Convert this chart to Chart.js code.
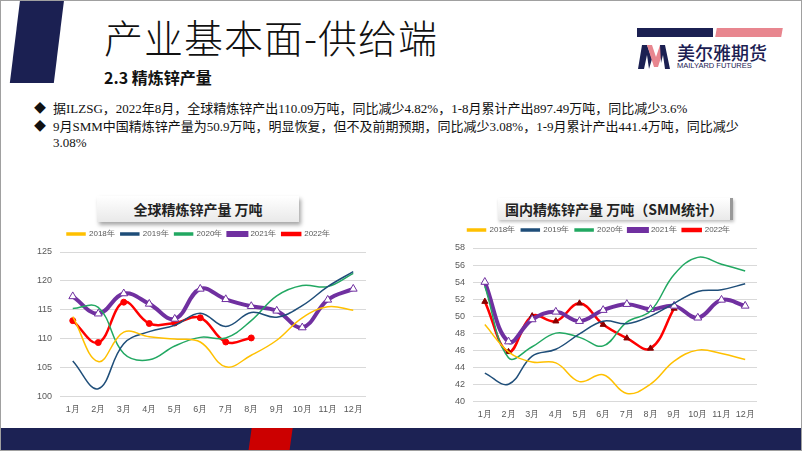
<!DOCTYPE html>
<html>
<head>
<meta charset="utf-8">
<script src="https://cdn.jsdelivr.net/npm/chart.js@4.4.0/dist/chart.umd.min.js"></script>
<style>
  html, body { margin: 0; padding: 0; background: #fff; }
  #slide {
    position: relative; width: 802px; height: 451px; overflow: hidden;
    background: #fff; box-sizing: border-box; border: 1px solid #a0a0a0;
    font-family: "Noto Sans CJK SC", "Liberation Serif", serif;
  }
  .abs { position: absolute; }
  #bar-left { left: 14px; top: -2px; width: 44px; height: 84px; background: #1b2052; transform: skewX(-7deg); }
  #title { left: 103px; top: 10px; font-size: 39px; line-height: 50px; color: #111; font-weight: 300; letter-spacing: 1px; }
  #subtitle { left: 103px; top: 65px; font-size: 16px; line-height: 22px; font-weight: bold; color: #111; }
  #logo-bar1 { left: 636px; top: 27px; width: 76px; height: 9px; background: #1b2052; }
  #logo-bar2 { left: 715px; top: 27px; width: 66px; height: 9px; background: #e8868f; transform: skewX(-10deg); }
  #logo-cn { left: 676px; top: 41px; font-size: 18px; line-height: 20px; color: #1b2052; font-weight: 500; }
  #logo-en { left: 676px; top: 60px; font-size: 7.5px; line-height: 9px; color: #1b2052; font-family: "Liberation Sans", sans-serif; }
  .bullet { left: 33px; font-size: 13px; line-height: 16px; color: #111; font-family: "Liberation Serif", "Noto Sans CJK SC", serif; white-space: nowrap; }
  .bullet b { font-weight: normal; display: inline-block; width: 19px; font-size: 12px; }
  .ctitle {
    font-size: 14px; font-weight: bold; color: #222; text-align: center;
    background: linear-gradient(#ffffff, #e9e9e9);
    box-shadow: 2px 3px 4px rgba(0,0,0,0.35);
    font-family: "Noto Sans CJK SC", serif;
  }
  #ct1 { left: 96px; top: 195px; width: 202px; height: 26px; line-height: 26px; }
  #ct2 { left: 497px; top: 197px; width: 232px; height: 22px; line-height: 22px; border-right: 3px solid #999; box-shadow: 1px 2px 3px rgba(0,0,0,0.25); }
  #foot { left: 0; top: 427px; width: 802px; height: 24px; background: #1c2254; }
  #foot-red { left: 249px; top: 427px; width: 41px; height: 24px; background: #cc0000; transform: skewX(-8deg); }
  #c1wrap { left: 30px; top: 223px; width: 345px; height: 197px; }
  #c2wrap { left: 440px; top: 219px; width: 325px; height: 206px; }
</style>
</head>
<body>
<div id="slide">
  <div class="abs" id="bar-left"></div>
  <div class="abs" id="title">产业基本面-供给端</div>
  <div class="abs" id="subtitle">2.3 精炼锌产量</div>

  <div class="abs" id="logo-bar1"></div>
  <div class="abs" id="logo-bar2"></div>
  <svg class="abs" style="left:637px;top:42px" width="36" height="26" viewBox="0 0 36 26">
    <polygon points="0,26 4,2 9,2 14,16 11,26 9,12 6,26" fill="#1b2052"/>
    <polygon points="9,2 14,2 18,14 22,2 27,2 20,24 16,24" fill="#e8868f"/>
    <polygon points="22,2 27,2 32,26 27,26 25,12 23,20" fill="#1b2052"/>
  </svg>
  <div class="abs" id="logo-cn">美尔雅期货</div>
  <div class="abs" id="logo-en">MAILYARD FUTURES</div>

  <div class="abs bullet" style="top:100px"><b>◆</b>据ILZSG，2022年8月，全球精炼锌产出110.09万吨，同比减少4.82%，1-8月累计产出897.49万吨，同比减少3.6%</div>
  <div class="abs bullet" style="top:118px"><b>◆</b>9月SMM中国精炼锌产量为50.9万吨，明显恢复，但不及前期预期，同比减少3.08%，1-9月累计产出441.4万吨，同比减少</div>
  <div class="abs bullet" style="top:134px"><b></b>3.08%</div>

  <div class="abs ctitle" id="ct1">全球精炼锌产量 万吨</div>
  <div class="abs ctitle" id="ct2">国内精炼锌产量 万吨（SMM统计）</div>

  <div class="abs" id="c1wrap"><canvas id="c1"></canvas></div>
  <div class="abs" id="c2wrap"><canvas id="c2"></canvas></div>

  <div class="abs" id="foot"></div>
  <div class="abs" id="foot-red"></div>
</div>

<script>
// categories
const months = ['1月', '2月', '3月', '4月', '5月', '6月', '7月', '8月', '9月', '10月', '11月', '12月'];
const years = ['2018年', '2019年', '2020年', '2021年', '2022年'];

// 全球精炼锌产量 (万吨), ILZSG
const global2018 = [113.8, 106.0, 111.1, 110.3, 109.9, 109.4, 105.1, 107.1, 109.7, 113.6, 115.5, 114.9];
const global2019 = [106.1, 101.3, 109.1, 111.2, 112.3, 114.4, 112.1, 114.5, 113.7, 115.7, 119.0, 121.6];
const global2020 = [115.2, 115.4, 107.4, 106.3, 108.7, 110.2, 110.1, 113.1, 117.4, 119.2, 119.0, 121.3];
const global2021 = [117.3, 114.3, 117.8, 116.0, 113.4, 118.6, 116.8, 115.6, 114.8, 111.9, 116.7, 118.6];
const global2022 = [113.1, 109.3, 116.3, 112.6, 112.7, 113.6, 109.4, 110.1];

// 国内精炼锌产量 (万吨), SMM
const china2018 = [49.0, 45.8, 44.6, 44.5, 42.3, 43.1, 40.9, 42.0, 44.7, 46.0, 45.6, 44.9];
const china2019 = [43.3, 42.0, 45.3, 46.1, 47.9, 49.4, 49.1, 50.0, 51.5, 52.9, 53.1, 53.8];
const china2020 = [53.5, 45.1, 46.4, 48.0, 47.5, 46.5, 49.3, 50.6, 54.9, 56.9, 56.1, 55.3];
const china2021 = [54.0, 47.0, 49.6, 50.5, 49.4, 50.7, 51.4, 50.8, 51.2, 49.8, 51.9, 51.2];
const china2022 = [51.7, 45.8, 50.0, 49.4, 51.5, 49.0, 47.4, 46.2, 50.9];

// tick settings
const globalTicks = { min: 100, max: 125, step: 5 };
const chinaTicks = { min: 40, max: 58, step: 2 };

const tickColor = '#595959';
const gridColor = '#d9d9d9';

function makeDatasets(series, redMarker) {
    return [
        { label: years[0], data: series[0], borderColor: '#ffc000', backgroundColor: '#ffc000', borderWidth: 1.5, pointRadius: 0 },
        { label: years[1], data: series[1], borderColor: '#1f4e79', backgroundColor: '#1f4e79', borderWidth: 1.5, pointRadius: 0 },
        { label: years[2], data: series[2], borderColor: '#22a862', backgroundColor: '#22a862', borderWidth: 1.5, pointRadius: 0 },
        { label: years[3], data: series[3], borderColor: '#7030a0', backgroundColor: '#7030a0', borderWidth: 4,
          pointStyle: 'triangle', pointRadius: 4.5, pointBackgroundColor: '#ffffff', pointBorderColor: '#7030a0', pointBorderWidth: 1 },
        { label: years[4], data: series[4], borderColor: '#ff0000', backgroundColor: '#ff0000', borderWidth: 2.5,
          pointStyle: redMarker.style, pointRadius: redMarker.radius, pointBackgroundColor: redMarker.fill,
          pointBorderColor: redMarker.fill, pointBorderWidth: 1 }
    ].map(ds => Object.assign({ tension: 0.4, fill: false }, ds));
}

// Fix the legend block height so the plot area lands where the original sits
function legendHeightPlugin(h) {
    return {
        id: 'legendHeight',
        beforeInit(chart) {
            const origFit = chart.legend.fit;
            chart.legend.fit = function() {
                origFit.bind(chart.legend)();
                this.height = h;
            };
        }
    };
}

function makeChart(id, series, ticks, redMarker, axisWidth, legendH, padding) {
    const ctx = document.getElementById(id).getContext('2d');
    return new Chart(ctx, {
        type: 'line',
        data: { labels: months, datasets: makeDatasets(series, redMarker) },
        options: {
            responsive: true,
            maintainAspectRatio: false,
            animation: false,
            layout: { padding: padding },
            scales: {
                x: {
                    offset: true,
                    grid: { display: false },
                    border: { display: false },
                    ticks: { color: tickColor, font: { size: 9 }, maxRotation: 0, autoSkip: false, padding: 0 }
                },
                y: {
                    min: ticks.min,
                    max: ticks.max,
                    grid: { color: gridColor, lineWidth: 1, drawTicks: false },
                    border: { display: false },
                    ticks: { stepSize: ticks.step, color: tickColor, font: { size: 9 }, padding: 8, autoSkip: false },
                    afterFit: function(scale) { scale.width = axisWidth; }
                }
            },
            plugins: {
                legend: {
                    position: 'top',
                    labels: {
                        color: tickColor,
                        font: { size: 8 },
                        boxWidth: 18,
                        boxHeight: 2,
                        padding: 6
                    }
                },
                tooltip: { enabled: false }
            }
        },
        plugins: [legendHeightPlugin(legendH)]
    });
}

makeChart('c1', [global2018, global2019, global2020, global2021, global2022], globalTicks,
    { style: 'circle', radius: 3, fill: '#ff0000' }, 29, 28, { left: 0, right: 10, top: 0, bottom: 6 });

makeChart('c2', [china2018, china2019, china2020, china2021, china2022], chinaTicks,
    { style: 'triangle', radius: 3.5, fill: '#8b0000' }, 32, 28, { left: 0, right: 9, top: 0, bottom: 6 });
</script>
</body>
</html>
